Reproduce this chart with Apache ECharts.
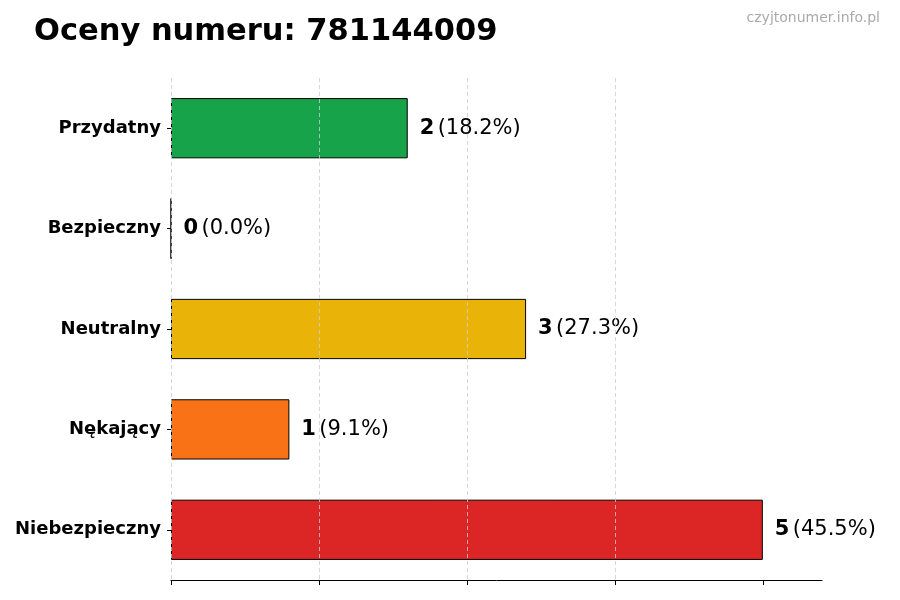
<!DOCTYPE html>
<html><head><meta charset="utf-8">
<script src="https://cdn.jsdelivr.net/npm/echarts@6/dist/echarts.min.js"></script>
<style>html,body{margin:0;padding:0;background:#fff}#c{width:900px;height:600px}</style>
</head><body><div id="c"></div>
<script>
const titleText = 'Oceny numeru: 781144009';
const watermark = 'czyjtonumer.info.pl';
const categories = ['Przydatny', 'Bezpieczny', 'Neutralny', 'Nękający', 'Niebezpieczny'];
const values = [2, 0, 3, 1, 5];
const tickValues = [0, 1.25, 2.5, 3.75, 5];
const colors = ['#16a34a', '#16a34a', '#eab308', '#f97316', '#dc2626'];
const total = values.reduce((a, b) => a + b, 0);

const chart = echarts.init(document.getElementById('c'));
chart.setOption({
  backgroundColor: '#fff',
  animation: false,
  title: [
    { text: titleText, left: 29, top: 12, textStyle: { fontFamily: 'DejaVu Sans', fontWeight: 'bold', fontSize: 30.5, color: '#000' } },
    { text: watermark, right: 15, top: 6, textStyle: { fontFamily: 'DejaVu Sans', fontWeight: 'normal', fontSize: 14, color: '#aaaaaa' } }
  ],
  grid: { left: 171, right: 78, top: 78, bottom: 20, containLabel: false },
  xAxis: {
    type: 'value', min: 0, max: 5.5, interval: 1.25, z: 5,
    axisLine: { show: true, lineStyle: { color: '#000', width: 1 } },
    axisTick: { show: true, inside: false, length: 5, customValues: tickValues, lineStyle: { color: '#000' } },
    axisLabel: { show: false },
    splitLine: { show: true, showMaxLine: false, lineStyle: { color: '#cccccc', type: [4, 3], width: 0.8 } }
  },
  yAxis: {
    type: 'category', data: categories, inverse: true,
    axisLine: { show: false },
    axisTick: { show: true, alignWithLabel: true, length: 4, lineStyle: { color: '#000' } },
    axisLabel: { fontFamily: 'DejaVu Sans', fontWeight: 'bold', fontSize: 18, color: '#000', margin: 10 }
  },
  series: [{
    type: 'bar',
    barWidth: '60%',
    data: values.map((v, i) => ({ value: v, itemStyle: { color: colors[i] } })),
    itemStyle: { borderColor: '#000', borderWidth: 1 },
    label: {
      show: true, position: 'right', distance: 12,
      formatter: p => '{b|' + p.value + '} {n|(' + (p.value / total * 100).toFixed(1) + '%)}',
      rich: {
        b: { fontFamily: 'DejaVu Sans', fontWeight: 'bold', fontSize: 21, color: '#000' },
        n: { fontFamily: 'DejaVu Sans', fontWeight: 'normal', fontSize: 21, color: '#000' }
      }
    }
  }]
});
</script></body></html>
